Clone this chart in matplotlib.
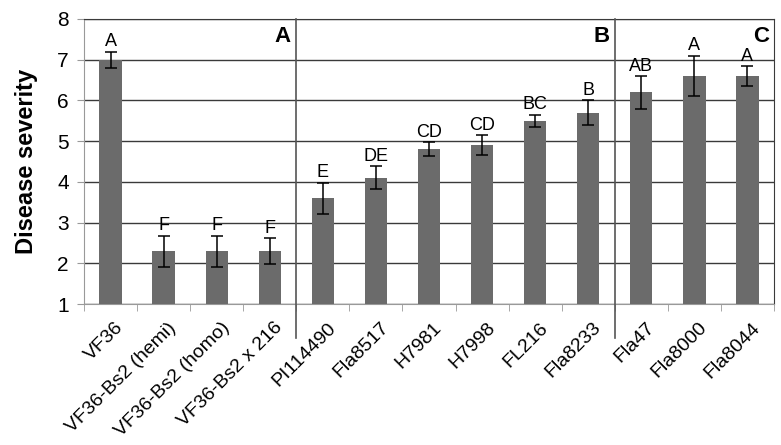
import matplotlib
matplotlib.use("Agg")
import matplotlib.pyplot as plt
import matplotlib.transforms as mtransforms
import numpy as np

plt.rcParams["font.family"] = ["Liberation Sans", "DejaVu Sans"]

# data
genotypes = ["VF36", "VF36-Bs2 (hemi)", "VF36-Bs2 (homo)", "VF36-Bs2 x 216",
             "PI114490", "Fla8517", "H7981", "H7998", "FL216", "Fla8233",
             "Fla47", "Fla8000", "Fla8044"]
severity = [7.0, 2.3, 2.3, 2.3, 3.6, 4.1, 4.8, 4.9, 5.5, 5.7, 6.2, 6.6, 6.6]
errors = [0.2, 0.38, 0.38, 0.32, 0.38, 0.28, 0.17, 0.25, 0.15, 0.3, 0.4, 0.5, 0.24]
groups = ["A", "F", "F", "F", "E", "DE", "CD", "CD", "BC", "B", "AB", "A", "A"]
panels = ["A", "B", "C"]
panel_ends = [4, 10, 13]  # number of genotypes up to the end of each panel

BAR = "#6b6b6b"
LINE = "#3a3a3a"

fig = plt.figure(figsize=(7.81, 4.45), dpi=100)
ax = fig.add_axes([84 / 781, 1 - 304 / 445, 690 / 781, 285 / 445])

x = np.arange(len(genotypes))
ax.bar(x, [s - 1 for s in severity], bottom=1, width=0.42, color=BAR, zorder=3)
ax.errorbar(x, severity, yerr=errors, fmt="none", ecolor="black",
            elinewidth=1.1, capsize=4, capthick=1.1, zorder=4)

for xi, s, e, g in zip(x, severity, errors, groups):
    ax.text(xi, s + e + 0.03, g, ha="center", va="bottom", fontsize=13)

ax.set_xlim(-0.5, len(genotypes) - 0.5)
ax.set_ylim(1, 8)
ax.set_yticks(range(1, 9))
ax.yaxis.grid(True, color=LINE, linewidth=1.0, zorder=0)

ax.set_xticks(x + 0.08)
ax.set_xticklabels(genotypes, rotation=45, ha="right", rotation_mode="anchor",
                   fontsize=14)
ax.tick_params(axis="x", which="major", length=0, pad=11)
ax.set_xticks(np.arange(-0.5, len(genotypes)), minor=True)
ax.tick_params(axis="x", which="minor", length=5, color="#999999", direction="out")
ax.tick_params(axis="y", labelsize=15, length=5, color="#999999", pad=6)

for sp in ax.spines.values():
    sp.set_color("#999999")
ax.spines["top"].set_color(LINE)
ax.spines["right"].set_color(LINE)

ax.set_ylabel("Disease severity", fontsize=17, fontweight="bold", labelpad=14)

# panel dividers and panel letters
trans = mtransforms.blended_transform_factory(ax.transData, ax.transAxes)
for end in panel_ends[:-1]:
    ax.plot([end - 0.5, end - 0.5], [1, -0.12], color="#555555", linewidth=1.2,
            transform=trans, clip_on=False, zorder=5)
for letter, end in zip(panels, panel_ends):
    ax.text(end - 0.6, 0.975, letter, transform=trans, ha="right", va="top",
            fontsize=16, fontweight="bold")

fig.savefig("out.png", dpi=100)
